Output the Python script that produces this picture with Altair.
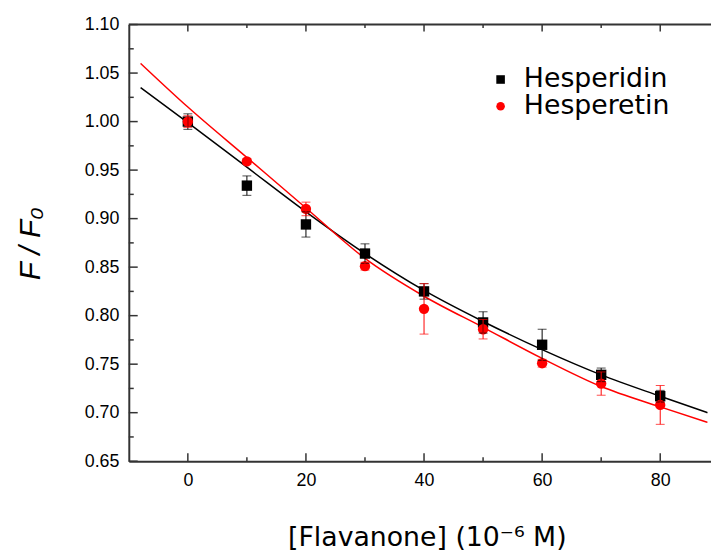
import altair as alt
import pandas as pd

# ---- data ----
conc = [0, 10, 20, 30, 40, 50, 60, 70, 80]
hesperidin = [1.000, 0.934, 0.894, 0.864, 0.825, 0.793, 0.770, 0.739, 0.717]
hesperidin_err = [0.008, 0.010, 0.013, 0.010, 0.008, 0.011, 0.016, 0.007, 0.006]
hesperetin = [1.000, 0.959, 0.910, 0.851, 0.807, 0.786, 0.751, 0.730, 0.708]
hesperetin_err = [0.006, 0.003, 0.007, 0.004, 0.026, 0.010, 0.004, 0.012, 0.020]

fit_x = [-8, 0, 10, 20, 30, 40, 50, 60, 70, 80, 88]
fit_hesperidin = [1.035, 0.999, 0.953, 0.907, 0.864, 0.826, 0.794, 0.765, 0.739, 0.717, 0.700]
fit_hesperetin = [1.060, 1.015, 0.963, 0.911, 0.859, 0.820, 0.788, 0.756, 0.727, 0.706, 0.690]

series = ["Hesperidin", "Hesperetin"]
colors = ["#000000", "#ff0000"]
shapes = ["square", "circle"]

x_labels = [0, 20, 40, 60, 80]
x_minor = [10, 30, 50, 70]
y_labels = [0.65, 0.70, 0.75, 0.80, 0.85, 0.90, 0.95, 1.00, 1.05, 1.10]
y_minor = [0.675, 0.725, 0.775, 0.825, 0.875, 0.925, 0.975, 1.025, 1.075]

x_domain = [-10, 88.6]
y_domain = [0.65, 1.10]

W, H = 588, 441
AX_COLOR = "#333333"

# ---- tables ----
pts = pd.DataFrame({
    "conc": conc * 2,
    "value": hesperidin + hesperetin,
    "err": hesperidin_err + hesperetin_err,
    "series": [series[0]] * len(conc) + [series[1]] * len(conc),
})
fit_black = pd.DataFrame({"conc": fit_x, "value": fit_hesperidin})
fit_red = pd.DataFrame({"conc": fit_x, "value": fit_hesperetin})


def edge_table(ticks, edge):
    return pd.DataFrame({"t": ticks, "edge": [edge] * len(ticks)})


xt_bottom_major = edge_table(x_labels, y_domain[0])
xt_bottom_minor = edge_table(x_minor, y_domain[0])
xt_top_major = edge_table(x_labels, y_domain[1])
xt_top_minor = edge_table(x_minor, y_domain[1])
yt_major = edge_table(y_labels, x_domain[0])
yt_minor = edge_table(y_minor, x_domain[0])
frame_top = pd.DataFrame({"y": [y_domain[1]], "x0": [x_domain[0]], "x1": [x_domain[1]]})

xs = alt.Scale(domain=x_domain, nice=False, zero=False)
ys = alt.Scale(domain=y_domain, nice=False, zero=False)

# one identical axis definition shared by every layer, so they merge into one
main_x_axis = alt.Axis(
    values=x_labels, ticks=False, tickSize=0, grid=False, domain=True,
    domainColor=AX_COLOR, domainWidth=2, labelFont="Liberation Sans",
    labelFontSize=18, labelColor="black", labelPadding=11,
    title="[Flavanone] (10\u207b\u2076 M)", titleFont="DejaVu Sans",
    titleFontSize=27, titleFontWeight="normal", titleColor="black",
    titleX=301, titleY=85, titleBaseline="alphabetic", titleAlign="center",
)
main_y_axis = alt.Axis(
    values=y_labels, format=".2f", ticks=False, tickSize=0, grid=False,
    domain=True, domainColor=AX_COLOR, domainWidth=2,
    labelFont="Liberation Sans", labelFontSize=18, labelColor="black",
    labelPadding=10,
    title="F / F\u2080", titleFont="Liberation Sans", titleFontStyle="italic",
    titleFontSize=30, titleFontWeight="normal", titleColor="black",
    titleX=-90, titleY=221, titleAngle=270, titleBaseline="alphabetic",
    titleAlign="center",
)


def X(field):
    return alt.X(field, scale=xs, axis=main_x_axis)


def Y(field):
    return alt.Y(field, scale=ys, axis=main_y_axis)


line_black = alt.Chart(fit_black).mark_line(
    color=colors[0], strokeWidth=1.5, interpolate="monotone"
).encode(x=X("conc:Q"), y=Y("value:Q"))
line_red = alt.Chart(fit_red).mark_line(
    color=colors[1], strokeWidth=1.5, interpolate="monotone"
).encode(x=X("conc:Q"), y=Y("value:Q"))

legend = alt.Legend(
    title=None, orient="none", legendX=362, legendY=42,
    labelFont="DejaVu Sans", labelFontSize=27, labelColor="black",
    symbolSize=75, labelOffset=10, rowPadding=-1, padding=0,
    symbolStrokeWidth=0,
)
points = alt.Chart(pts).mark_point(filled=True, size=110, opacity=1).encode(
    x=X("conc:Q"),
    y=Y("value:Q"),
    color=alt.Color("series:N", scale=alt.Scale(domain=series, range=colors),
                    legend=legend),
    shape=alt.Shape("series:N", scale=alt.Scale(domain=series, range=shapes),
                    legend=legend),
)

err_black = alt.Chart(pts).transform_filter(
    alt.datum.series == series[0]
).mark_errorbar(color=colors[0], thickness=1, ticks={"size": 9}).encode(
    x=X("conc:Q"), y=Y("value:Q"), yError="err:Q",
)
err_red = alt.Chart(pts).transform_filter(
    alt.datum.series == series[1]
).mark_errorbar(color=colors[1], thickness=1, ticks={"size": 9}).encode(
    x=X("conc:Q"), y=Y("value:Q"), yError="err:Q",
)


# inward axis ticks: tick positions and frame edges go through the scales
def x_ticks(df, length, direction):
    return alt.Chart(df).mark_tick(
        orient="vertical", color=AX_COLOR, thickness=1.5, size=length,
        yOffset=direction * length / 2, opacity=1,
    ).encode(x=X("t:Q"), y=Y("edge:Q"))


def y_ticks(df, length):
    return alt.Chart(df).mark_tick(
        orient="horizontal", color=AX_COLOR, thickness=1.5, size=length,
        xOffset=length / 2, opacity=1,
    ).encode(x=X("edge:Q"), y=Y("t:Q"))


ticks_layers = [
    x_ticks(xt_bottom_major, 8, -1),
    x_ticks(xt_bottom_minor, 4, -1),
    x_ticks(xt_top_major, 7, 1),
    x_ticks(xt_top_minor, 3.5, 1),
    y_ticks(yt_major, 9),
    y_ticks(yt_minor, 5),
]

top_border = alt.Chart(frame_top).mark_rule(
    color=AX_COLOR, strokeWidth=2
).encode(y=Y("y:Q"), x=X("x0:Q"), x2="x1:Q")

chart = alt.layer(
    line_black, *ticks_layers, top_border, line_red, points, err_black, err_red
).properties(
    width=W, height=H,
    autosize=alt.AutoSizeParams(type="none"),
    padding={"left": 122, "top": 14, "right": 0, "bottom": 91},
    background="white",
).configure_view(stroke=None)

chart.save("out.html", embed_options={"renderer": "svg", "actions": False})
